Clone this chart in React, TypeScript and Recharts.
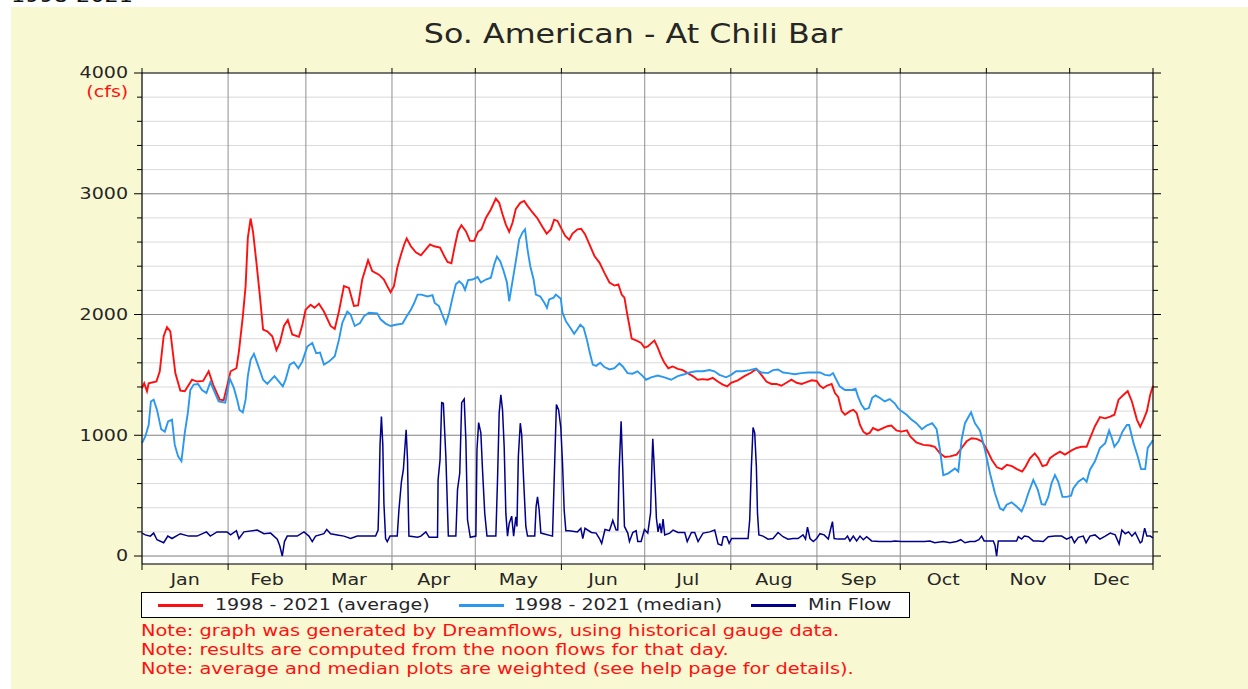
import { CartesianGrid, Line, LineChart, ReferenceLine, XAxis, YAxis } from "recharts";

// month boundaries (day of year, Jan 1 = 0, Dec 31 = 364)
const MONTH_NAMES = ["Jan", "Feb", "Mar", "Apr", "May", "Jun", "Jul", "Aug", "Sep", "Oct", "Nov", "Dec"];
const MONTH_STARTS = [0, 31, 59, 90, 120, 151, 181, 212, 243, 273, 304, 334, 364];

const Y_TICKS = [0, 200, 400, 600, 800, 1000, 1200, 1400, 1600, 1800, 2000, 2200, 2400, 2600, 2800, 3000, 3200, 3400, 3600, 3800, 4000];
const Y_MAJOR = [0, 1000, 2000, 3000];

// [day of year, cfs]
const AVERAGE: [number, number][] = [
  [0, 1390], [0.8, 1430], [1.8, 1365], [2.4, 1430], [5.2, 1445], [6.4, 1530], [7.8, 1820], [9.0, 1895],
  [10.2, 1860], [12.0, 1515], [13.8, 1370], [15.4, 1365], [18.0, 1460], [19.8, 1445], [22.0, 1450], [24.0, 1530],
  [25.6, 1420], [28.0, 1295], [29.4, 1290], [30.6, 1405], [31.9, 1530], [34.0, 1555], [34.9, 1695], [36.3, 1985],
  [37.3, 2235], [38.1, 2635], [39.1, 2795], [40.0, 2680], [41.2, 2430], [42.4, 2165], [43.6, 1875], [45.1, 1860],
  [46.9, 1820], [48.4, 1705], [49.6, 1765], [51.1, 1905], [52.5, 1955], [54.1, 1835], [56.5, 1815], [57.7, 1910],
  [58.9, 2040], [60.7, 2080], [62.1, 2055], [63.7, 2090], [65.5, 2025], [67.9, 1905], [69.4, 1880], [70.9, 2025],
  [72.7, 2235], [74.5, 2220], [76.3, 2070], [77.8, 2075], [79.3, 2290], [81.4, 2450], [82.9, 2360], [85.3, 2330],
  [87.1, 2290], [88.3, 2235], [89.5, 2185], [90.7, 2235], [91.9, 2385], [93.1, 2485], [94.4, 2580], [95.3, 2630],
  [96.8, 2565], [98.6, 2515], [100.4, 2490], [102.2, 2540], [103.7, 2580], [105.2, 2565], [107.3, 2555], [108.8, 2485],
  [110.0, 2435], [111.4, 2425], [112.6, 2565], [113.8, 2690], [115.0, 2740], [116.6, 2690], [118.1, 2610], [119.6, 2610],
  [121.0, 2685], [122.2, 2705], [123.8, 2800], [125.6, 2870], [127.4, 2960], [128.6, 2925], [129.8, 2830], [131.0, 2745],
  [132.2, 2685], [133.4, 2760], [134.6, 2875], [136.2, 2925], [137.6, 2940], [138.8, 2900], [140.6, 2845], [142.4, 2795],
  [144.2, 2725], [145.7, 2670], [147.2, 2705], [148.4, 2785], [149.6, 2775], [150.8, 2720], [152.4, 2650], [153.8, 2620],
  [155.0, 2670], [156.8, 2705], [158.1, 2710], [159.5, 2665], [161.1, 2580], [162.9, 2485], [164.7, 2430], [166.5, 2345],
  [168.3, 2265], [170.1, 2240], [171.5, 2250], [172.7, 2165], [173.7, 2140], [174.6, 2015], [175.5, 1905], [176.3, 1800],
  [177.9, 1785], [179.7, 1765], [180.9, 1725], [182.1, 1735], [183.5, 1765], [184.5, 1785], [185.7, 1725], [186.9, 1655],
  [188.1, 1600], [189.5, 1555], [191.1, 1570], [192.9, 1550], [194.7, 1540], [196.5, 1515], [198.3, 1490], [200.1, 1460],
  [201.9, 1465], [203.7, 1460], [205.5, 1475], [207.3, 1445], [209.1, 1420], [210.7, 1405], [212.1, 1435], [214.5, 1455],
  [216.9, 1490], [219.4, 1520], [221.2, 1550], [223.0, 1500], [224.8, 1445], [226.6, 1425], [228.4, 1425], [230.2, 1410],
  [232.0, 1435], [233.8, 1460], [235.7, 1435], [237.5, 1425], [239.3, 1440], [241.1, 1455], [242.9, 1450], [244.1, 1410],
  [245.3, 1390], [246.5, 1410], [248.3, 1425], [249.5, 1350], [250.7, 1315], [251.9, 1200], [253.1, 1170], [254.9, 1200],
  [256.1, 1210], [257.3, 1185], [258.5, 1085], [259.7, 1030], [260.9, 1010], [262.0, 1020], [263.2, 1060], [265.0, 1040],
  [266.8, 1060], [268.4, 1075], [269.8, 1080], [271.6, 1040], [273.4, 1030], [275.4, 1040], [276.6, 990], [278.8, 940],
  [281.3, 920], [283.7, 915], [285.4, 905], [287.3, 850], [289.1, 820], [290.9, 825], [293.3, 840], [295.1, 895],
  [296.9, 950], [298.7, 975], [300.5, 970], [302.4, 950], [304.2, 880], [306.0, 795], [307.8, 735], [309.6, 720],
  [311.4, 755], [313.2, 745], [315.0, 720], [316.9, 700], [318.1, 740], [319.7, 810], [321.4, 850], [322.8, 810],
  [324.2, 745], [325.7, 755], [326.9, 810], [328.7, 840], [330.5, 865], [332.3, 840], [334.7, 875], [336.5, 895],
  [338.3, 905], [340.1, 905], [341.3, 975], [343.1, 1075], [344.9, 1150], [346.8, 1140], [348.6, 1155], [350.1, 1170],
  [351.6, 1295], [353.4, 1335], [354.9, 1365], [356.4, 1280], [358.2, 1130], [359.4, 1070], [360.6, 1130], [361.8, 1200],
  [363.0, 1335], [364.0, 1410],
];

const MEDIAN: [number, number][] = [
  [0, 935], [1.2, 990], [2.4, 1085], [3.2, 1280], [4.2, 1295], [5.4, 1210], [6.9, 1050], [8.2, 1030],
  [9.4, 1115], [10.8, 1130], [11.8, 920], [13.0, 825], [14.2, 785], [15.4, 1020], [16.5, 1185], [17.4, 1375],
  [18.6, 1420], [20.2, 1425], [21.6, 1375], [23.2, 1350], [24.6, 1440], [25.8, 1375], [27.6, 1280], [30.0, 1270],
  [31.6, 1470], [33.1, 1390], [34.3, 1290], [35.1, 1210], [36.3, 1190], [37.3, 1295], [38.1, 1490], [39.1, 1625],
  [40.3, 1675], [41.7, 1585], [43.6, 1460], [45.1, 1425], [46.5, 1460], [47.7, 1490], [49.3, 1445], [50.7, 1405],
  [51.7, 1460], [53.2, 1585], [54.7, 1605], [56.3, 1555], [57.7, 1610], [59.5, 1735], [61.3, 1765], [62.7, 1680],
  [64.1, 1685], [65.5, 1585], [67.3, 1610], [69.4, 1655], [70.9, 1790], [72.1, 1930], [73.9, 2025], [75.1, 2000],
  [76.6, 1905], [78.5, 1930], [79.9, 1985], [81.7, 2015], [84.7, 2010], [85.9, 1960], [87.7, 1925], [89.5, 1905],
  [91.3, 1915], [93.8, 1925], [95.3, 1985], [96.8, 2040], [98.0, 2095], [99.2, 2165], [100.6, 2165], [102.8, 2150],
  [104.6, 2160], [105.4, 2095], [106.9, 2070], [108.1, 2000], [109.4, 1925], [110.6, 2015], [111.8, 2140], [113.0, 2250],
  [114.2, 2275], [115.4, 2250], [116.3, 2205], [117.4, 2285], [119.0, 2290], [120.8, 2310], [122.0, 2265], [123.8, 2290],
  [125.6, 2305], [126.8, 2415], [127.8, 2480], [129.0, 2440], [130.2, 2360], [131.4, 2265], [132.2, 2110], [133.1, 2235],
  [134.0, 2360], [135.0, 2500], [135.8, 2620], [137.0, 2680], [137.9, 2705], [138.8, 2540], [139.8, 2400], [141.0, 2290],
  [141.8, 2165], [143.4, 2150], [144.8, 2100], [145.8, 2055], [146.6, 2125], [148.2, 2140], [149.0, 2165], [150.8, 2130],
  [151.4, 2015], [152.6, 1945], [154.2, 1890], [155.6, 1840], [156.8, 1880], [157.8, 1915], [159.0, 1890], [160.2, 1790],
  [161.1, 1695], [162.3, 1585], [163.5, 1575], [165.0, 1600], [166.5, 1565], [168.3, 1545], [170.1, 1555], [171.9, 1595],
  [173.1, 1570], [174.8, 1515], [176.6, 1510], [178.4, 1530], [180.3, 1490], [181.5, 1460], [183.3, 1480], [185.7, 1495],
  [188.1, 1480], [190.5, 1460], [192.9, 1490], [195.3, 1505], [197.1, 1520], [199.5, 1530], [201.9, 1530], [204.3, 1540],
  [206.1, 1530], [207.9, 1500], [210.3, 1480], [212.1, 1500], [213.9, 1530], [216.3, 1530], [218.8, 1540], [220.8, 1550],
  [223.0, 1520], [225.4, 1515], [227.2, 1540], [229.0, 1545], [230.8, 1520], [232.6, 1515], [235.0, 1505], [237.4, 1515],
  [239.8, 1520], [242.2, 1520], [244.1, 1520], [245.9, 1500], [247.6, 1495], [248.8, 1515], [250.0, 1460], [251.2, 1405],
  [253.1, 1375], [255.5, 1375], [256.9, 1385], [257.8, 1320], [259.0, 1255], [260.2, 1215], [261.7, 1225], [262.9, 1310],
  [264.1, 1330], [265.6, 1310], [267.4, 1280], [269.2, 1300], [271.0, 1265], [272.2, 1225], [273.4, 1200], [275.3, 1170],
  [276.8, 1135], [278.8, 1100], [280.8, 1050], [282.5, 1080], [284.5, 1100], [286.1, 1050], [287.3, 880], [288.5, 670],
  [290.3, 685], [292.7, 725], [293.9, 700], [295.1, 965], [296.3, 1100], [298.5, 1190], [299.9, 1100], [301.7, 1040],
  [303.5, 880], [305.3, 685], [307.1, 520], [308.9, 395], [310.1, 380], [311.3, 425], [313.1, 445], [314.9, 410],
  [316.7, 370], [317.9, 435], [319.1, 520], [320.9, 630], [322.5, 550], [323.9, 430], [325.1, 425], [326.3, 490],
  [327.5, 605], [328.7, 670], [329.9, 615], [331.4, 490], [332.9, 490], [334.5, 500], [335.3, 560], [337.1, 615],
  [338.9, 645], [340.1, 615], [341.3, 715], [343.1, 785], [344.9, 895], [346.8, 935], [348.2, 1040], [349.2, 975],
  [350.1, 905], [351.6, 950], [353.0, 1030], [354.6, 1085], [355.4, 1085], [357.0, 935], [358.5, 825], [359.7, 720],
  [361.2, 720], [362.1, 895], [363.3, 935], [364.0, 960],
];

const MIN_FLOW: [number, number][] = [
  [0, 190], [1.2, 175], [3.0, 165], [4.2, 190], [5.4, 135], [7.8, 110], [9.3, 165], [10.8, 145],
  [13.8, 185], [16.8, 165], [19.8, 165], [23.2, 200], [24.6, 165], [27.0, 200], [30.6, 200], [31.9, 175],
  [34.0, 210], [34.9, 145], [36.7, 200], [41.5, 215], [43.9, 185], [46.3, 190], [48.7, 140], [49.6, 85],
  [50.5, 0], [51.3, 120], [52.3, 165], [55.9, 165], [58.3, 200], [60.1, 165], [61.3, 120], [62.5, 165],
  [65.5, 185], [66.5, 220], [67.9, 185], [70.3, 175], [72.7, 165], [75.1, 145], [77.5, 165], [79.9, 165],
  [84.1, 165], [85.0, 215], [85.3, 450], [85.7, 920], [86.2, 1155], [86.7, 920], [87.1, 435], [87.7, 145],
  [88.3, 120], [89.3, 165], [91.9, 165], [92.5, 380], [93.4, 615], [94.1, 715], [94.6, 880], [95.1, 1045],
  [95.6, 795], [95.9, 380], [96.1, 165], [99.2, 155], [100.4, 165], [102.2, 200], [103.4, 155], [106.4, 155],
  [106.6, 630], [107.3, 795], [107.9, 1270], [108.5, 1265], [109.4, 825], [110.0, 380], [110.3, 165], [113.0, 165],
  [113.6, 550], [114.4, 685], [115.1, 1270], [116.0, 1300], [116.6, 965], [117.2, 300], [118.2, 155], [120.2, 165],
  [120.6, 880], [121.2, 1105], [122.0, 1020], [122.6, 715], [123.4, 355], [124.2, 165], [127.4, 165], [128.0, 630],
  [128.6, 1185], [129.2, 1335], [129.8, 1210], [130.4, 905], [131.0, 355], [131.6, 165], [132.2, 270], [133.1, 330],
  [133.8, 165], [134.6, 325], [135.0, 245], [135.5, 825], [136.2, 1100], [136.7, 1005], [137.4, 630], [138.2, 245],
  [138.8, 165], [141.4, 165], [141.9, 410], [142.4, 490], [143.0, 380], [143.6, 190], [147.8, 165], [148.4, 630],
  [149.2, 1255], [150.0, 1210], [150.8, 1060], [151.4, 770], [152.0, 380], [152.6, 210], [153.8, 210], [156.8, 200],
  [158.0, 230], [158.7, 145], [159.5, 230], [161.8, 195], [163.5, 190], [164.7, 145], [165.5, 105], [166.7, 220],
  [168.3, 210], [169.5, 295], [170.7, 215], [171.3, 215], [171.8, 715], [172.5, 1115], [173.1, 715], [173.7, 245],
  [174.9, 190], [175.5, 120], [176.7, 195], [177.9, 210], [178.5, 120], [179.7, 120], [180.9, 220], [182.1, 190],
  [183.1, 355], [183.6, 770], [183.9, 970], [184.3, 795], [184.9, 490], [185.2, 315], [185.8, 200], [186.4, 270],
  [187.0, 190], [187.6, 305], [188.2, 175], [190.0, 190], [191.2, 215], [193.0, 195], [195.4, 195], [196.3, 120],
  [197.8, 195], [199.0, 195], [200.2, 120], [202.0, 190], [204.4, 200], [206.2, 215], [207.4, 100], [208.7, 90],
  [209.3, 160], [210.5, 160], [211.4, 105], [212.3, 145], [215.3, 145], [218.2, 145], [218.8, 300], [219.4, 740],
  [220.0, 1065], [220.6, 1020], [221.2, 740], [221.6, 355], [222.1, 175], [223.6, 165], [225.4, 140], [227.2, 145],
  [229.0, 195], [230.8, 160], [232.6, 140], [234.4, 145], [236.2, 145], [238.0, 175], [238.9, 140], [239.6, 240],
  [240.5, 145], [241.7, 120], [242.9, 145], [244.1, 185], [245.6, 175], [247.1, 140], [248.0, 230], [248.6, 285],
  [249.2, 145], [250.6, 140], [253.1, 140], [254.0, 165], [254.9, 125], [256.1, 165], [257.3, 125], [258.5, 165],
  [259.7, 135], [260.9, 160], [262.7, 125], [265.6, 120], [269.8, 120], [271.0, 125], [273.4, 120], [277.0, 120],
  [281.8, 120], [283.7, 125], [285.4, 110], [288.5, 120], [290.9, 110], [293.3, 120], [294.8, 135], [296.3, 110],
  [298.1, 120], [299.9, 120], [301.3, 135], [302.3, 165], [303.2, 125], [306.5, 125], [307.1, 90], [307.7, 0],
  [308.3, 125], [311.9, 125], [314.9, 125], [315.5, 160], [316.7, 140], [317.7, 165], [319.1, 160], [320.9, 125],
  [322.7, 125], [324.5, 120], [326.3, 160], [328.7, 165], [331.1, 165], [332.9, 140], [334.7, 160], [335.7, 110],
  [337.1, 155], [338.9, 165], [339.9, 110], [341.3, 165], [343.1, 175], [344.9, 140], [346.8, 165], [348.6, 190],
  [350.4, 175], [351.8, 100], [352.8, 215], [354.0, 185], [355.2, 200], [356.4, 165], [357.6, 195], [359.4, 110],
  [360.0, 120], [361.0, 230], [361.8, 165], [363.0, 165], [364.0, 150],
];

const NOTES = [
  "Note: graph was generated by Dreamflows, using historical gauge data.",
  "Note: results are computed from the noon flows for that day.",
  "Note: average and median plots are weighted (see help page for details).",
];

const toRows = (pts: [number, number][]) => pts.map(([day, cfs]) => ({ day, cfs }));

const FONT = "'DejaVu Sans', sans-serif";
const INK = "#262626";
const RED = "#ff1010";
const BLUE = "#2b98ee";
const NAVY = "#00008c";
const PANEL = "#f8f8d2";
const SX = 1.19; // the reference glyphs are drawn wide

const CHART_W = 1248;
const CHART_H = 600;
const MARGIN = { top: 72, right: 85, bottom: 6, left: 82 };
const LEFT_AXIS_W = 60;
const RIGHT_AXIS_W = 10;
const PLOT_W = CHART_W - MARGIN.left - MARGIN.right - LEFT_AXIS_W - RIGHT_AXIS_W;
const PX_PER_DAY = PLOT_W / 364;

function LeftTick({ x, y, payload }: any) {
  const major = payload.value % 1000 === 0;
  const edge = x + 14;
  return (
    <g>
      <line x1={edge - (major ? 8 : 5)} x2={edge} y1={y} y2={y} stroke="#000" />
      {major && (
        <text
          transform={`translate(${x},${y}) scale(${SX},1)`}
          textAnchor="end"
          dominantBaseline="central"
          fontSize={16}
          fontFamily={FONT}
          fill={INK}
        >
          {payload.value}
        </text>
      )}
    </g>
  );
}

function RightTick({ x, y, payload }: any) {
  const major = payload.value % 1000 === 0;
  const edge = x - 8;
  return <line x1={edge} x2={edge + (major ? 8 : 5)} y1={y} y2={y} stroke="#000" />;
}

// month name centred between this boundary and the next one
function MonthTick({ x, y, payload }: any) {
  const i = MONTH_STARTS.indexOf(payload.value);
  if (i < 0 || i >= MONTH_NAMES.length) return <g />;
  const half = ((MONTH_STARTS[i + 1] - MONTH_STARTS[i]) / 2) * PX_PER_DAY;
  return (
    <text
      transform={`translate(${x + half},${y + 10}) scale(${SX},1)`}
      textAnchor="middle"
      dominantBaseline="central"
      fontSize={16}
      fontFamily={FONT}
      fill={INK}
    >
      {MONTH_NAMES[i]}
    </text>
  );
}

const NoLabel = () => <g />;

const wide = (origin: string) => ({
  display: "inline-block",
  transform: `scaleX(${SX})`,
  transformOrigin: origin,
  whiteSpace: "nowrap" as const,
});

export default function App() {
  const legend = [
    { label: "1998 - 2021 (average)", color: RED, seg: 158, text: 215 },
    { label: "1998 - 2021 (median)", color: BLUE, seg: 459, text: 514 },
    { label: "Min Flow", color: NAVY, seg: 751, text: 808 },
  ];

  return (
    <div
      style={{
        position: "absolute",
        left: 0,
        top: 0,
        width: 1248,
        height: 689,
        overflow: "hidden",
        background: "#fff",
        fontFamily: FONT,
      }}
    >
      <div style={{ position: "absolute", left: 11, top: -15, fontSize: 20, lineHeight: "20px", color: "#111" }}>
        <span style={{ ...wide("left center"), transform: "scaleX(1.12)" }}>1998-2021</span>
      </div>
      <div style={{ position: "absolute", left: 11, top: 7, width: 1237, height: 682, background: PANEL }} />

      <div
        style={{
          position: "absolute",
          left: 633,
          top: 18,
          fontSize: 26,
          lineHeight: "32px",
          color: INK,
          transform: "translateX(-50%) scaleX(1.22)",
          whiteSpace: "nowrap",
        }}
      >
        So. American - At Chili Bar
      </div>

      <div
        style={{
          position: "absolute",
          right: 1248 - 128,
          top: 82,
          fontSize: 16,
          lineHeight: "20px",
          color: RED,
        }}
      >
        <span style={wide("right center")}>(cfs)</span>
      </div>

      <div style={{ position: "absolute", left: 0, top: 0 }}>
        <LineChart width={CHART_W} height={CHART_H} margin={MARGIN}>
          <CartesianGrid horizontal vertical={false} stroke="#d9d9d9" fill="#fff" />
          <CartesianGrid horizontal={false} vertical stroke="#8f8f8f" />
          <XAxis
            type="number"
            dataKey="day"
            domain={[0, 364]}
            ticks={MONTH_STARTS}
            interval={0}
            height={30}
            tickSize={6}
            tickMargin={0}
            tick={MonthTick}
            tickLine={{ stroke: "#000" }}
            axisLine={{ stroke: "#000" }}
          />
          <XAxis
            xAxisId="top"
            orientation="top"
            type="number"
            dataKey="day"
            domain={[0, 364]}
            ticks={MONTH_STARTS}
            interval={0}
            height={1}
            tickSize={5}
            tick={NoLabel}
            tickLine={{ stroke: "#000" }}
            axisLine={{ stroke: "#000" }}
          />
          <YAxis
            type="number"
            domain={[-66, 4000]}
            ticks={Y_TICKS}
            interval={0}
            width={LEFT_AXIS_W}
            tickSize={8}
            tickMargin={6}
            tickLine={false}
            tick={LeftTick}
            axisLine={{ stroke: "#000" }}
          />
          <YAxis
            yAxisId="right"
            orientation="right"
            type="number"
            domain={[-66, 4000]}
            ticks={Y_TICKS}
            interval={0}
            width={RIGHT_AXIS_W}
            tickSize={8}
            tickMargin={0}
            tickLine={false}
            tick={RightTick}
            axisLine={{ stroke: "#000" }}
          />
          {Y_MAJOR.map((v) => (
            <ReferenceLine key={v} y={v} stroke="#8f8f8f" />
          ))}
          <Line
            data={toRows(AVERAGE)}
            dataKey="cfs"
            type="linear"
            stroke={RED}
            strokeWidth={1.9}
            dot={false}
            isAnimationActive={false}
          />
          <Line
            data={toRows(MEDIAN)}
            xAxisId="top"
            dataKey="cfs"
            type="linear"
            stroke={BLUE}
            strokeWidth={1.9}
            dot={false}
            isAnimationActive={false}
          />
          <Line
            data={toRows(MIN_FLOW)}
            yAxisId="right"
            dataKey="cfs"
            type="linear"
            stroke={NAVY}
            strokeWidth={1.5}
            dot={false}
            isAnimationActive={false}
          />
        </LineChart>
      </div>

      <div
        style={{
          position: "absolute",
          left: 141,
          top: 592,
          width: 767,
          height: 24,
          background: "#fff",
          border: "1px solid #000",
        }}
      >
        {legend.map((item) => (
          <div key={item.label}>
            <div
              style={{
                position: "absolute",
                left: item.seg - 142,
                top: 11,
                width: 45,
                height: 3,
                background: item.color,
              }}
            />
            <div
              style={{
                position: "absolute",
                left: item.text - 142,
                top: 2,
                fontSize: 16,
                lineHeight: "20px",
                color: INK,
              }}
            >
              <span style={wide("left center")}>{item.label}</span>
            </div>
          </div>
        ))}
      </div>

      {NOTES.map((note, i) => (
        <div
          key={note}
          style={{
            position: "absolute",
            left: 141,
            top: 621 + i * 19,
            fontSize: 16,
            lineHeight: "20px",
            color: RED,
          }}
        >
          <span style={{ ...wide("left center"), transform: "scaleX(1.21)" }}>{note}</span>
        </div>
      ))}
    </div>
  );
}
